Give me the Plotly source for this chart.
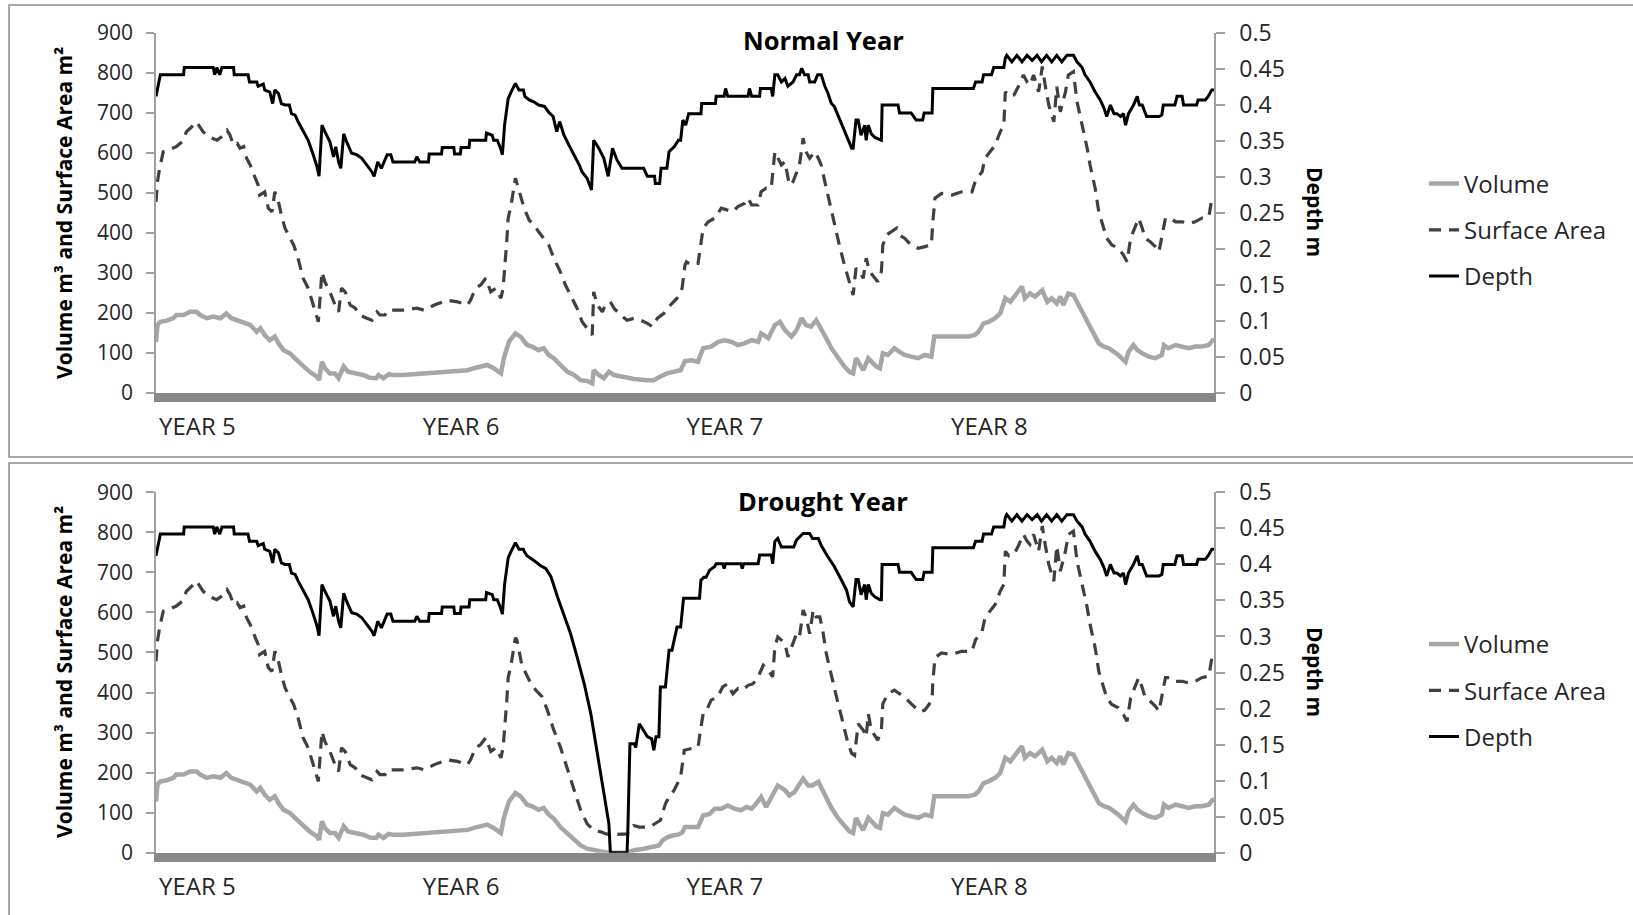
import plotly.graph_objects as go

# ---------------- data (day index from start of YEAR 5, value) ----------------
year_labels = ["YEAR 5", "YEAR 6", "YEAR 7", "YEAR 8"]
year_label_days = [57, 421, 785, 1150]

left_ticks = [0, 100, 200, 300, 400, 500, 600, 700, 800, 900]
depth_ticks = [0, 0.05, 0.1, 0.15, 0.2, 0.25, 0.3, 0.35, 0.4, 0.45, 0.5]
depth_tick_text = ["0", "0.05", "0.1", "0.15", "0.2", "0.25", "0.3", "0.35", "0.4", "0.45", "0.5"]

normal_depth = [
    (0, .412), (3, .428), (6, .442), (38, .442), (39, .452), (79, .452), (81, .442), (84, .452), (88, .442),
    (91, .452), (107, .452), (108, .442), (127, .442), (129, .432), (139, .432), (141, .426), (148, .429),
    (150, .421), (157, .418), (161, .402), (164, .421), (169, .416), (173, .402), (178, .400), (184, .400),
    (187, .388), (192, .386), (196, .377), (203, .363), (210, .351), (217, .331), (222, .315), (225, .301),
    (229, .372), (233, .363), (240, .349), (245, .328), (248, .342), (252, .321), (255, .312), (259, .360),
    (263, .349), (270, .333), (277, .331), (284, .326), (291, .317), (298, .307), (301, .301), (306, .321),
    (311, .312), (319, .331), (324, .331), (327, .321), (357, .321), (360, .328), (364, .321), (376, .321),
    (377, .332), (394, .332), (395, .341), (411, .341), (412, .332), (420, .332), (421, .341), (432, .341),
    (433, .351), (455, .351), (456, .361), (464, .358), (466, .351), (471, .351), (475, .341), (478, .331),
    (481, .372), (486, .409), (490, .418), (496, .430), (501, .421), (507, .421), (509, .412), (515, .407),
    (522, .404), (528, .400), (536, .398), (542, .390), (548, .384), (553, .363), (557, .377), (563, .358),
    (570, .344), (577, .331), (584, .317), (588, .307), (595, .298), (601, .282), (604, .351), (611, .340),
    (618, .326), (624, .301), (630, .340), (636, .324), (643, .312), (673, .312), (678, .301), (688, .301),
    (689, .291), (695, .291), (697, .312), (705, .312), (708, .335), (715, .342), (721, .351), (724, .351),
    (727, .379), (731, .372), (735, .388), (752, .388), (753, .402), (772, .402), (773, .412), (784, .412),
    (786, .423), (789, .412), (817, .412), (819, .423), (822, .412), (833, .412), (834, .423), (849, .423),
    (851, .412), (854, .442), (858, .442), (863, .432), (868, .437), (872, .426), (879, .432), (884, .442),
    (888, .442), (891, .451), (895, .442), (900, .442), (902, .432), (909, .432), (913, .442), (918, .442),
    (923, .426), (927, .417), (932, .402), (936, .398), (941, .386), (946, .374), (950, .363), (955, .351),
    (960, .340), (962, .340), (966, .379), (969, .379), (973, .358), (978, .372), (980, .351), (983, .372),
    (987, .360), (992, .355), (999, .351), (1001, .351), (1002, .400), (1024, .400), (1026, .389), (1042, .389),
    (1049, .379), (1058, .379), (1060, .389), (1071, .389), (1072, .423), (1128, .423), (1131, .432),
    (1140, .432), (1142, .442), (1153, .442), (1156, .452), (1170, .452), (1172, .465), (1174, .469),
    (1181, .460), (1188, .469), (1195, .460), (1202, .469), (1209, .462), (1216, .469), (1222, .460),
    (1229, .469), (1236, .460), (1243, .469), (1250, .460), (1257, .469), (1266, .469), (1271, .460),
    (1278, .452), (1282, .442), (1289, .432), (1296, .418), (1303, .407), (1308, .396), (1312, .384),
    (1317, .400), (1322, .388), (1326, .388), (1331, .384), (1335, .388), (1338, .372), (1342, .388),
    (1349, .400), (1354, .412), (1357, .400), (1361, .400), (1367, .384), (1384, .384), (1388, .386),
    (1390, .400), (1406, .400), (1409, .412), (1416, .412), (1418, .400), (1436, .400), (1438, .407),
    (1448, .407), (1452, .412), (1457, .421), (1460, .421),
]

normal_volume = [
    (0, 128), (2, 170), (6, 178), (15, 181), (24, 187), (28, 195), (38, 195), (47, 203), (56, 203), (61, 195),
    (70, 187), (79, 191), (89, 187), (97, 199), (104, 187), (111, 182), (120, 178), (130, 170), (139, 153),
    (144, 162), (150, 145), (157, 132), (164, 141), (169, 124), (176, 107), (185, 99), (194, 83), (203, 66),
    (212, 53), (222, 41), (225, 32), (229, 78), (233, 62), (240, 49), (247, 49), (252, 37), (259, 66),
    (265, 53), (275, 49), (286, 45), (295, 38), (304, 37), (307, 45), (314, 37), (321, 47), (327, 45),
    (341, 45), (355, 47), (367, 49), (374, 49), (393, 53), (411, 53), (430, 57), (439, 62), (448, 66),
    (457, 70), (466, 62), (476, 49), (480, 87), (487, 128), (496, 149), (503, 141), (512, 120), (519, 116),
    (528, 107), (535, 112), (542, 95), (549, 87), (558, 70), (568, 53), (577, 45), (586, 32), (595, 30),
    (602, 24), (604, 57), (611, 45), (618, 37), (625, 53), (632, 45), (641, 41), (650, 37), (660, 35),
    (678, 32), (687, 32), (696, 41), (705, 49), (715, 53), (724, 57), (730, 80), (739, 82), (748, 78),
    (755, 112), (766, 116), (776, 128), (785, 132), (794, 128), (803, 120), (812, 124), (822, 132),
    (831, 128), (835, 149), (845, 137), (854, 170), (861, 178), (868, 157), (877, 141), (884, 157),
    (891, 187), (897, 170), (904, 166), (911, 182), (918, 162), (925, 137), (932, 112), (941, 87), (950, 66),
    (957, 53), (962, 49), (966, 87), (971, 70), (976, 57), (983, 87), (987, 78), (994, 66), (999, 62),
    (1003, 99), (1010, 95), (1019, 112), (1026, 103), (1033, 95), (1042, 91), (1052, 87), (1061, 95),
    (1070, 91), (1074, 141), (1103, 141), (1121, 141), (1130, 145), (1135, 153), (1142, 174), (1149, 178),
    (1158, 187), (1165, 199), (1172, 237), (1179, 228), (1186, 245), (1195, 266), (1199, 237), (1206, 249),
    (1213, 241), (1223, 257), (1230, 228), (1236, 237), (1243, 224), (1248, 241), (1252, 220), (1259, 249),
    (1266, 245), (1273, 220), (1280, 195), (1287, 170), (1294, 145), (1301, 124), (1308, 116), (1315, 112),
    (1322, 103), (1328, 95), (1338, 78), (1342, 103), (1349, 120), (1354, 108), (1361, 99), (1370, 91),
    (1379, 87), (1388, 95), (1391, 120), (1397, 112), (1407, 120), (1416, 116), (1425, 112), (1434, 116),
    (1443, 116), (1453, 120), (1458, 132), (1460, 132),
]

normal_surface_area = [
    (0, 478), (2, 528), (5, 562), (10, 603), (17, 607), (28, 616), (36, 628), (42, 653), (52, 670), (56, 678),
    (65, 653), (72, 641), (84, 632), (91, 641), (98, 657), (102, 645), (107, 620), (112, 624), (116, 612),
    (121, 616), (125, 587), (130, 570), (137, 537), (141, 520), (143, 495), (150, 503), (155, 462), (160, 453),
    (164, 503), (169, 478), (173, 445), (178, 412), (185, 387), (190, 370), (196, 337), (203, 287), (210, 262),
    (217, 220), (224, 178), (229, 303), (233, 278), (240, 253), (247, 220), (252, 203), (256, 262), (261, 253),
    (268, 220), (275, 212), (281, 195), (291, 187), (298, 182), (305, 203), (309, 195), (316, 195), (320, 207),
    (341, 207), (360, 212), (370, 207), (384, 220), (402, 232), (416, 228), (430, 220), (434, 232), (441, 262),
    (448, 270), (455, 287), (462, 253), (469, 262), (476, 237), (479, 262), (481, 303), (484, 378), (486, 437),
    (490, 470), (496, 537), (501, 503), (508, 462), (515, 432), (522, 420), (528, 403), (535, 387), (542, 370),
    (549, 337), (558, 303), (565, 270), (574, 237), (581, 212), (588, 178), (595, 162), (602, 145), (604, 253),
    (609, 220), (616, 203), (620, 220), (627, 228), (632, 212), (641, 195), (650, 182), (660, 187), (669, 182),
    (678, 174), (685, 166), (692, 187), (701, 199), (710, 220), (719, 237), (726, 262), (730, 320), (732, 328),
    (739, 320), (748, 324), (753, 387), (755, 412), (762, 428), (771, 437), (780, 462), (789, 458), (796, 453),
    (803, 466), (812, 474), (817, 487), (822, 470), (831, 470), (835, 503), (842, 512), (849, 512), (854, 603),
    (858, 587), (863, 570), (868, 578), (874, 520), (879, 528), (884, 553), (888, 570), (893, 637), (897, 603),
    (902, 587), (909, 603), (914, 587), (918, 570), (923, 528), (930, 470), (937, 412), (943, 370), (950, 320),
    (955, 287), (960, 253), (962, 245), (966, 312), (971, 303), (976, 287), (980, 337), (985, 303), (992, 287),
    (996, 278), (1001, 303), (1003, 370), (1008, 395), (1015, 403), (1022, 412), (1026, 395), (1033, 387),
    (1042, 370), (1052, 362), (1061, 366), (1070, 370), (1072, 428), (1075, 487), (1084, 499), (1098, 495),
    (1112, 503), (1126, 503), (1131, 532), (1140, 553), (1144, 587), (1151, 603), (1158, 620), (1165, 653),
    (1170, 670), (1172, 753), (1177, 741), (1184, 745), (1190, 766), (1197, 795), (1202, 778), (1206, 770),
    (1211, 795), (1218, 753), (1223, 816), (1227, 770), (1232, 720), (1239, 678), (1243, 766), (1248, 703),
    (1255, 753), (1259, 795), (1266, 803), (1271, 728), (1276, 687), (1280, 653), (1285, 612), (1289, 570),
    (1296, 512), (1301, 453), (1308, 412), (1312, 387), (1319, 370), (1328, 362), (1335, 345), (1340, 328),
    (1345, 387), (1351, 412), (1356, 437), (1361, 412), (1365, 387), (1372, 378), (1379, 366), (1384, 353),
    (1388, 395), (1393, 437), (1400, 437), (1407, 428), (1416, 428), (1425, 424), (1434, 428), (1443, 437),
    (1453, 441), (1457, 487), (1460, 490),
]

# drought-year readings for the stretch where it departs from the normal year
drought_depth_segment = [
    (508, .418), (512, .412), (522, .405), (531, .398), (538, .394), (545, .383), (554, .355), (563, .329),
    (572, .304), (581, .272), (591, .234), (600, .193), (607, .151), (614, .109), (620, .068), (625, .040),
    (627, 0), (650, 0), (651, .026), (654, .151), (660, .151), (662, .146), (667, .179), (673, .170),
    (678, .161), (684, .158), (687, .142), (690, .161), (694, .161), (696, .230), (703, .230), (708, .281),
    (712, .281), (719, .313), (724, .313), (728, .353), (750, .353), (752, .378), (756, .382), (759, .382),
    (764, .392), (771, .397), (773, .401), (782, .401), (784, .394), (786, .401), (807, .401), (809, .394),
    (811, .401), (831, .401), (833, .413), (849, .413), (851, .401), (854, .432), (858, .436), (863, .424),
    (880, .424), (884, .434), (893, .443), (902, .443), (906, .436), (914, .436), (918, .426), (927, .411),
    (936, .397), (946, .378), (953, .364), (957, .348), (962, .341),
]

drought_volume_segment = [
    (545, 92), (549, 85), (558, 64), (568, 48), (577, 31), (586, 18), (595, 10), (604, 6), (614, 2), (623, 0),
    (650, 0), (660, 6), (673, 10), (687, 14), (694, 18), (699, 31), (706, 39), (713, 43), (720, 45), (726, 50),
    (730, 64), (748, 64), (755, 93), (764, 97), (771, 110), (780, 110), (789, 118), (798, 110), (807, 106),
    (815, 114), (822, 110), (828, 122), (835, 139), (842, 114), (851, 147), (858, 168), (868, 156), (874, 143),
    (881, 151), (886, 164), (893, 185), (900, 168), (906, 168), (914, 177), (922, 147), (930, 122),
]

drought_surface_area_segment = [
    (498, 531), (505, 468), (515, 431), (524, 406), (533, 389), (540, 356), (549, 306), (558, 264), (568, 206),
    (577, 156), (586, 106), (595, 72), (604, 56), (614, 52), (621, 47), (630, 45), (650, 47), (659, 68),
    (667, 64), (681, 64), (696, 81), (703, 122), (708, 139), (715, 156), (724, 189), (729, 256), (748, 264),
    (750, 289), (755, 347), (759, 352), (766, 381), (775, 389), (782, 414), (789, 422), (796, 397), (803, 410),
    (810, 406), (817, 418), (824, 422), (831, 439), (838, 468), (845, 456), (851, 439), (854, 514), (858, 539),
    (863, 531), (868, 522), (872, 489), (879, 522), (884, 547), (888, 539), (893, 606), (897, 589), (902, 547),
    (907, 606), (911, 589), (916, 589), (920, 556), (925, 497), (932, 439), (939, 389), (946, 339), (950, 306),
    (955, 272), (960, 248), (964, 243), (969, 322), (976, 306), (980, 289), (983, 347), (987, 306), (996, 281),
    (1001, 306), (1003, 372), (1010, 397), (1019, 406), (1026, 397), (1033, 389), (1042, 372), (1054, 352),
    (1061, 356), (1071, 381),
]


def splice(base, segment):
    lo, hi = segment[0][0], segment[-1][0]
    return sorted([p for p in base if p[0] < lo or p[0] > hi] + segment)


def unzip(points):
    return [p[0] for p in points], [p[1] for p in points]


drought_depth = splice(normal_depth, drought_depth_segment)
drought_volume = splice(normal_volume, drought_volume_segment)
drought_surface_area = splice(normal_surface_area, drought_surface_area_segment)

# ---------------- figure ----------------
W, H = 1633, 915
FONT = "Open Sans"
TXT = "#262626"
AX = "#a0a0a0"


def px(x):
    return x / W


def py(y):
    return 1 - y / H


fig = go.Figure()

panels = [
    ("Normal Year", normal_volume, normal_surface_area, normal_depth, "x", "y", "y2", "legend", "n"),
    ("Drought Year", drought_volume, drought_surface_area, drought_depth, "x2", "y3", "y4", "legend2", "d"),
]

for title, vol, sa, dep, xa, ya, ya2, lg, tag in panels:
    vx, vy = unzip(vol)
    sx, sy = unzip(sa)
    dx, dy = unzip(dep)
    fig.add_trace(go.Scatter(x=vx, y=vy, name="Volume", mode="lines",
                             line=dict(color="#a6a6a6", width=4.5),
                             xaxis=xa, yaxis=ya, legend=lg, legendgroup=tag + "v"))
    fig.add_trace(go.Scatter(x=sx, y=sy, name="Surface Area", mode="lines",
                             line=dict(color="#404040", width=3.2, dash="12px,8px"),
                             xaxis=xa, yaxis=ya, legend=lg, legendgroup=tag + "s"))
    fig.add_trace(go.Scatter(x=dx, y=dy, name="Depth", mode="lines",
                             line=dict(color="#000000", width=3),
                             xaxis=xa, yaxis=ya2, legend=lg, legendgroup=tag + "d"))

xdom = [px(156), px(1214)]
top_dom = [py(393), py(33)]
bot_dom = [py(852.7), py(492.3)]


def xaxis_cfg(anchor):
    return dict(domain=xdom, anchor=anchor, range=[0, 1460], showline=True, linewidth=9,
                linecolor="#888888", ticks="", tickvals=year_label_days, ticktext=year_labels,
                tickfont=dict(family=FONT, size=24, color=TXT), showgrid=False, zeroline=False,
                ticklabelstandoff=4, automargin=False)


def yleft_cfg(dom, anchor):
    return dict(domain=dom, anchor=anchor, range=[0, 900], tickvals=left_ticks, ticks="outside",
                ticklen=8, tickcolor=AX, tickwidth=1.5, showline=True, linecolor=AX, linewidth=1.5,
                showgrid=False, zeroline=False, tickfont=dict(family=FONT, size=21, color=TXT),
                ticklabelstandoff=9, automargin=False)


def yright_cfg(over, anchor):
    return dict(overlaying=over, anchor=anchor, side="right", range=[0, 0.5], tickvals=depth_ticks,
                ticktext=depth_tick_text, ticks="outside", ticklen=9, tickcolor=AX, tickwidth=1.5,
                showline=True, linecolor=AX, linewidth=1.5, showgrid=False, zeroline=False,
                tickfont=dict(family=FONT, size=23, color=TXT), ticklabelstandoff=10, automargin=False)


legend_common = dict(xanchor="left", yanchor="middle", x=px(1424),
                     font=dict(family=FONT, size=24, color=TXT), tracegroupgap=12,
                     traceorder="grouped", bgcolor="rgba(0,0,0,0)")

annotations = []
for title, cy, ly, dy_ in [("Normal Year", 40, 213, 212), ("Drought Year", 501, 672, 672)]:
    annotations.append(dict(text="<b>%s</b>" % title, x=px(823), y=py(cy), xref="paper", yref="paper",
                            showarrow=False, font=dict(family=FONT, size=25.5, color="#000000"),
                            xanchor="center", yanchor="middle"))
    annotations.append(dict(text="<b>Volume m³ and Surface Area m²</b>", x=px(64), y=py(ly),
                            xref="paper", yref="paper", showarrow=False, textangle=-90,
                            font=dict(family=FONT, size=21, color="#000000"),
                            xanchor="center", yanchor="middle"))
    annotations.append(dict(text="<b>Depth m</b>", x=px(1315), y=py(dy_), xref="paper", yref="paper",
                            showarrow=False, textangle=90,
                            font=dict(family=FONT, size=21, color="#000000"),
                            xanchor="center", yanchor="middle"))

shapes = [
    dict(type="rect", xref="paper", yref="paper", x0=px(9), x1=1.02, y0=py(457), y1=py(5),
         line=dict(color="#8c8c8c", width=1.5), fillcolor="rgba(0,0,0,0)", layer="below"),
    dict(type="rect", xref="paper", yref="paper", x0=px(9), x1=1.02, y0=-0.02, y1=py(463),
         line=dict(color="#8c8c8c", width=1.5), fillcolor="rgba(0,0,0,0)", layer="below"),
]

fig.update_layout(
    width=W, height=H, margin=dict(l=0, r=0, t=0, b=0, autoexpand=False),
    paper_bgcolor="white", plot_bgcolor="white",
    font=dict(family=FONT, color=TXT),
    xaxis=xaxis_cfg("y"), xaxis2=xaxis_cfg("y3"),
    yaxis=yleft_cfg(top_dom, "x"), yaxis2=yright_cfg("y", "x"),
    yaxis3=yleft_cfg(bot_dom, "x2"), yaxis4=yright_cfg("y3", "x2"),
    legend=dict(y=py(230), **legend_common),
    legend2=dict(y=py(690.5), **legend_common),
    annotations=annotations, shapes=shapes,
    showlegend=True,
)

fig.write_html("out.html")
